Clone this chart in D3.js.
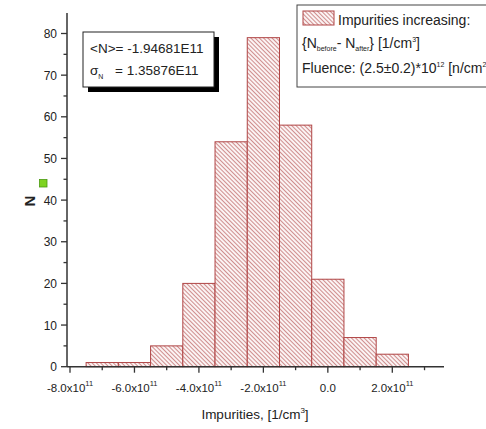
<!DOCTYPE html>
<html><head><meta charset="utf-8">
<script src="https://cdn.jsdelivr.net/npm/d3@7"></script>
<style>body{margin:0;background:#fff}svg{display:block}text{font-family:"Liberation Sans",Arial,sans-serif;fill:#222}</style>
</head><body>
<svg id="c" width="486" height="429"></svg>
<script>
const binStarts = [-7.5e11,-6.5e11,-5.5e11,-4.5e11,-3.5e11,-2.5e11,-1.5e11,-0.5e11,0.5e11,1.5e11];
const binWidth = 1e11;
const counts = [1,1,5,20,54,79,58,21,7,3];
const xTicks = [-8e11,-6e11,-4e11,-2e11,0,2e11];
const xMinor = [-7e11,-5e11,-3e11,-1e11,1e11,3e11];
const yTicks = [0,10,20,30,40,50,60,70,80];
const yMinor = [5,15,25,35,45,55,65,75];
const meanText = "<N>= -1.94681E11";
const sigmaText = "= 1.35876E11";

const svg = d3.select("#c");
const x = d3.scaleLinear().domain([-8e11, 2e11]).range([70, 392.3]);
const y = d3.scaleLinear().domain([0, 80]).range([366.7, 33.5]);
const xMin = x.invert(67), xMax = x.invert(444), yMax = y.invert(13);

const defs = svg.append("defs");
const pw = 3;
const pat = defs.append("pattern").attr("id","hatch").attr("patternUnits","userSpaceOnUse")
  .attr("width",pw).attr("height",pw).attr("patternTransform","rotate(-45)");
pat.append("rect").attr("width",pw).attr("height",pw).attr("fill","#fbf3f3");
pat.append("line").attr("x1",0.5).attr("y1",0).attr("x2",0.5).attr("y2",pw)
  .attr("stroke","#cf8e8e").attr("stroke-width",1);

// bars
svg.append("g").selectAll("rect").data(counts).join("rect")
  .attr("x",(d,i)=>x(binStarts[i]))
  .attr("width",(d,i)=>x(binStarts[i]+binWidth)-x(binStarts[i]))
  .attr("y",d=>y(d)).attr("height",d=>y(0)-y(d))
  .attr("fill","url(#hatch)").attr("stroke","#b04545").attr("stroke-width",1);

// axes
const axC = "#333";
const gx = svg.append("g").attr("transform",`translate(0,${y(0)})`);
gx.append("line").attr("x1",x(xMin)).attr("x2",x(xMax)).attr("stroke",axC).attr("stroke-width",1.5);
gx.selectAll(".mj").data(xTicks).join("line").attr("x1",d=>x(d)).attr("x2",d=>x(d)).attr("y1",0).attr("y2",6).attr("stroke",axC).attr("stroke-width",1.3);
gx.selectAll(".mn").data(xMinor).join("line").attr("x1",d=>x(d)).attr("x2",d=>x(d)).attr("y1",0).attr("y2",3.5).attr("stroke",axC).attr("stroke-width",1.3);
xTicks.forEach(v=>{
  const t = gx.append("text").attr("x",x(v)).attr("y",25).attr("text-anchor","middle").attr("font-size",11.5).attr("fill","#333");
  if(v===0){ t.text("0.0"); }
  else {
    const m = (v/1e11).toFixed(1);
    t.append("tspan").text(m+"x10");
    t.append("tspan").attr("dy",-6).attr("font-size",7.5).text("11");
  }
});

const gy = svg.append("g").attr("transform",`translate(${x(xMin)},0)`);
gy.append("line").attr("y1",y(0)).attr("y2",y(yMax)).attr("stroke",axC).attr("stroke-width",1.5);
gy.selectAll(".mj").data(yTicks).join("line").attr("x1",-6).attr("x2",0).attr("y1",d=>y(d)).attr("y2",d=>y(d)).attr("stroke",axC).attr("stroke-width",1.3);
gy.selectAll(".mn").data(yMinor).join("line").attr("x1",-3.5).attr("x2",0).attr("y1",d=>y(d)).attr("y2",d=>y(d)).attr("stroke",axC).attr("stroke-width",1.3);
gy.selectAll("text").data(yTicks).join("text").attr("x",-10).attr("y",d=>y(d)+4.5)
  .attr("text-anchor","end").attr("font-size",12).attr("fill","#333").text(d=>d);

// axis titles
svg.append("text").attr("transform","translate(35,201) rotate(-90)").attr("text-anchor","middle")
  .attr("font-size",15).attr("font-weight","bold").attr("fill","#222").text("N");
svg.append("rect").attr("x",39.5).attr("y",179.5).attr("width",7.5).attr("height",7.5)
  .attr("fill","#7ed321").attr("stroke","#4a9a10").attr("stroke-width",0.8);
const xt = svg.append("text").attr("x",255).attr("y",419).attr("text-anchor","middle").attr("font-size",13.5).attr("fill","#222");
xt.append("tspan").text("Impurities, [1/cm");
xt.append("tspan").attr("dy",-6).attr("font-size",8).text("3");
xt.append("tspan").attr("dy",6).text("]");

// stats box
svg.append("rect").attr("x",88).attr("y",37).attr("width",131).attr("height",55).attr("fill","#000");
svg.append("rect").attr("x",83).attr("y",32).attr("width",131).attr("height",55).attr("fill","#fff").attr("stroke","#222").attr("stroke-width",1);
svg.append("text").attr("x",90).attr("y",53).attr("font-size",13.5).text(meanText);
const st = svg.append("text").attr("x",90).attr("y",75).attr("font-size",13.5);
st.append("tspan").text("σ");
st.append("tspan").attr("dy",4).attr("font-size",7).text("N");
st.append("tspan").attr("dy",-4).attr("x",115).text(sigmaText);

// legend
svg.append("rect").attr("x",297).attr("y",5).attr("width",200).attr("height",82).attr("fill","#fff").attr("stroke","#444").attr("stroke-width",1);
svg.append("rect").attr("x",303).attr("y",11).attr("width",31).attr("height",14).attr("fill","url(#hatch)").attr("stroke","#b04545").attr("stroke-width",1);
svg.append("text").attr("x",338).attr("y",25).attr("font-size",14).text("Impurities increasing:");
const l2 = svg.append("text").attr("x",302).attr("y",48).attr("font-size",14);
l2.append("tspan").text("{N");
l2.append("tspan").attr("dy",3).attr("font-size",7).text("before");
l2.append("tspan").attr("dy",-3).text("-  N");
l2.append("tspan").attr("dy",3).attr("font-size",7).text("after");
l2.append("tspan").attr("dy",-3).text("} [1/cm");
l2.append("tspan").attr("dy",-6).attr("font-size",7).text("3");
l2.append("tspan").attr("dy",6).text("]");
const l3 = svg.append("text").attr("x",302).attr("y",73).attr("font-size",14);
l3.append("tspan").text("Fluence: (2.5±0.2)*10");
l3.append("tspan").attr("dy",-6).attr("font-size",7).text("12");
l3.append("tspan").attr("dy",6).text(" [n/cm");
l3.append("tspan").attr("dy",-6).attr("font-size",7).text("2");
</script>
</body></html>
